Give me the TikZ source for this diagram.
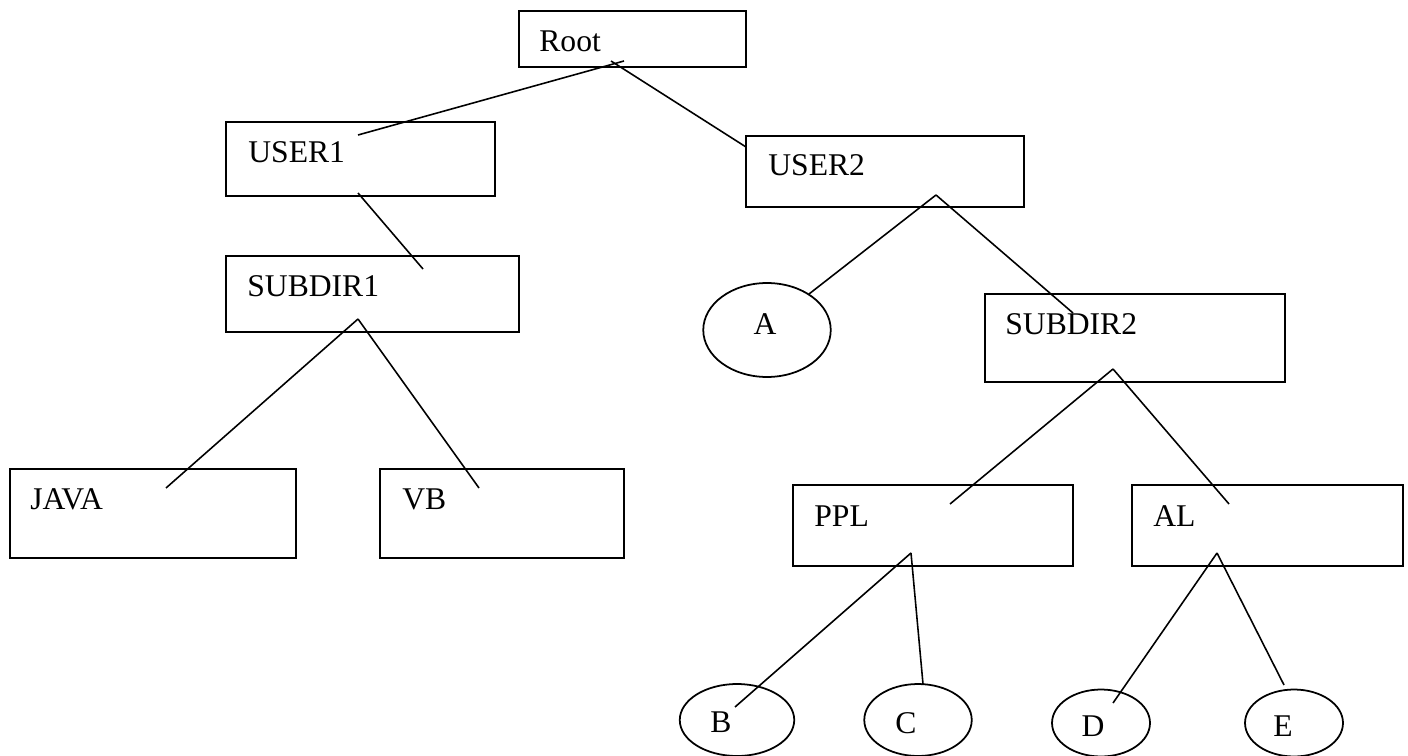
\documentclass[tikz,border=0pt]{standalone}
\usepackage{fontspec}
\setmainfont{Liberation Serif}
\usetikzlibrary{fit,shapes.geometric}

\tikzset{
  dirbox/.style={draw, line width=1.1pt, inner sep=0pt},
  leaf/.style={draw, ellipse, line width=1pt, inner sep=0pt},
  dirname/.style={anchor=base west, inner sep=0pt, font=\fontsize{18}{21}\selectfont},
  leafname/.style={anchor=base, inner sep=0pt, font=\fontsize{18}{21}\selectfont},
  branch/.style={line width=0.9pt},
}

\begin{document}
\begin{tikzpicture}[x=0.02cm, y=-0.02cm]
\useasboundingbox (0,0) rectangle (1408,756);

% directory boxes
\node[dirbox, fit={(519,11) (746,67)}]     (root) {};
\node[dirbox, fit={(226,122) (495,196)}]   (user1) {};
\node[dirbox, fit={(746,136) (1024,207)}]  (user2) {};
\node[dirbox, fit={(226,256) (519,332)}]   (sub1) {};
\node[dirbox, fit={(985,294) (1285,382)}]  (sub2) {};
\node[dirbox, fit={(10,469) (296,558)}]    (java) {};
\node[dirbox, fit={(380,469) (624,558)}]   (vb) {};
\node[dirbox, fit={(793,485) (1073,566)}]  (ppl) {};
\node[dirbox, fit={(1132,485) (1403,566)}] (al) {};

\node[dirname] (root-t)  at (539,52)  {Root};
\node[dirname] (user1-t) at (248,163) {USER1};
\node[dirname] (user2-t) at (768,176) {USER2};
\node[dirname] (sub1-t)  at (247,297) {SUBDIR1};
\node[dirname] (sub2-t)  at (1005,335) {SUBDIR2};
\node[dirname] (java-t)  at (30,509)  {JAVA};
\node[dirname] (vb-t)    at (402,509) {VB};
\node[dirname] (ppl-t)   at (814,526) {PPL};
\node[dirname] (al-t)    at (1153,526) {AL};

% files
\node[leaf, minimum width=2.55cm, minimum height=1.88cm] (a) at (767,330)  {};
\node[leaf, minimum width=2.29cm, minimum height=1.44cm] (b) at (737,720)  {};
\node[leaf, minimum width=2.15cm, minimum height=1.44cm] (c) at (918,720)  {};
\node[leaf, minimum width=1.96cm, minimum height=1.34cm] (d) at (1101,723) {};
\node[leaf, minimum width=1.96cm, minimum height=1.34cm] (e) at (1294,723) {};

\node[leafname] (a-t) at (765,335)  {A};
\node[leafname] (b-t) at (721,732)  {B};
\node[leafname] (c-t) at (906,733)  {C};
\node[leafname] (d-t) at (1093,736) {D};
\node[leafname] (e-t) at (1283,736) {E};

% where the branches start and stop
\coordinate (root-l)   at (624,61);
\coordinate (root-r)   at (611,61);
\coordinate (user1-in) at (358,135);
\coordinate (user1-out) at (358,193);
\coordinate (user2-in) at (746,147);
\coordinate (user2-out) at (936,195);
\coordinate (sub1-in)  at (423,269);
\coordinate (sub1-out) at (358,319);
\coordinate (sub2-in)  at (1073,313);
\coordinate (sub2-out) at (1113,369);
\coordinate (java-in)  at (166,488);
\coordinate (vb-in)    at (479,488);
\coordinate (ppl-in)   at (950,504);
\coordinate (ppl-out)  at (911,553);
\coordinate (al-in)    at (1229,504);
\coordinate (al-out)   at (1217,553);
\coordinate (a-in)     at (809,294);
\coordinate (b-in)     at (735,707);
\coordinate (c-in)     at (923,684);
\coordinate (d-in)     at (1113,703);
\coordinate (e-in)     at (1284,685);

% tree branches
\draw[branch] (root-l) -- (user1-in);
\draw[branch] (root-r) -- (user2-in);
\draw[branch] (user1-out) -- (sub1-in);
\draw[branch] (sub1-out) -- (java-in);
\draw[branch] (sub1-out) -- (vb-in);
\draw[branch] (user2-out) -- (a-in);
\draw[branch] (user2-out) -- (sub2-in);
\draw[branch] (sub2-out) -- (ppl-in);
\draw[branch] (sub2-out) -- (al-in);
\draw[branch] (ppl-out) -- (b-in);
\draw[branch] (ppl-out) -- (c-in);
\draw[branch] (al-out) -- (d-in);
\draw[branch] (al-out) -- (e-in);
\end{tikzpicture}
\end{document}
